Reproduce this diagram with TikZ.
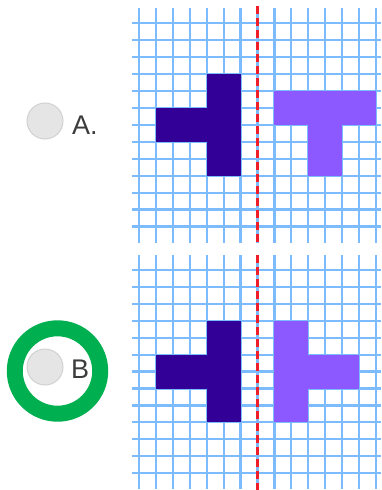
\documentclass[tikz,border=0pt]{standalone}
\usepackage{fontspec}
\setmainfont{Liberation Sans}
\definecolor{gridcolor}{RGB}{125,187,255}
\definecolor{axiscolor}{RGB}{240,30,40}
\definecolor{origcolor}{RGB}{50,0,150}
\definecolor{imagecolor}{RGB}{140,88,255}
\definecolor{markcolor}{RGB}{0,176,80}
\definecolor{labelcolor}{RGB}{60,60,60}
\newcommand{\fillblock}[5]{%
    \fill[#5] (#1,#2) rectangle ++ (#3,#4);
}
\newcommand{\drawpaper}{%
    \foreach \i in {0,...,14} {
            \draw[gridline] (\i,-0.9) -- (\i,12.95);
        }
    \foreach \j in {0,...,12} {
            \draw[gridline] (-0.43,\j) -- (14.3,\j);
        }
}
\tikzset{
    gridline/.style={gridcolor, line width=2.2pt},
    mirrorline/.style={axiscolor, line width=2.6pt, dash pattern=on 8pt off 4pt},
    radio/.style={circle, minimum size=36pt, inner sep=0pt, fill=black!10, draw=black!18, line width=1pt},
    optlabel/.style={anchor=base west, inner sep=0pt, text=labelcolor, font=\fontsize{27}{30}\selectfont},
    ring/.style={circle, minimum size=85.4pt, inner sep=0pt, draw=markcolor, line width=16pt}
}

\begin{document}
\begin{tikzpicture}[x=1pt, y=-1pt]
    \useasboundingbox (0,0) rectangle (382,490);
    % --- Option A: shape reflected into a T ---
    \begin{scope}[shift={(139pt,-23.3pt)}, x=16.93pt, y=-16.93pt]
        \drawpaper
        \draw[mirrorline] (7,-1.0) coordinate (axisAtop) -- (7,13.0) coordinate (axisAbot);
        \fillblock{4}{3}{2}{6}{origcolor}
        \fillblock{1}{5}{3.02}{2}{origcolor}
        \fillblock{8}{4}{6}{2}{imagecolor}
        \fillblock{10}{5.98}{2}{3.02}{imagecolor}
    \end{scope}
    % --- Option B: true mirror image ---
    \begin{scope}[shift={(139pt,-270pt)}, x=16.93pt, y=-16.93pt]
        \drawpaper
        \draw[mirrorline] (7,-0.9) coordinate (axisBtop) -- (7,13.1) coordinate (axisBbot);
        \fillblock{4}{3}{2}{6}{origcolor}
        \fillblock{1}{5}{3.02}{2}{origcolor}
        \fillblock{8}{3}{2}{6}{imagecolor}
        \fillblock{9.98}{5}{3.02}{2}{imagecolor}
    \end{scope}
    % --- answer buttons ---
    \node[radio] (radioA) at (45,121) {};
    \node[optlabel] (labelA) at (72,134) {A.};
    \node[radio] (radioB) at (45,367) {};
    \node[optlabel] (labelB) at (71,378) {B};
    \node[ring] (answer) at (57.5,371) {};
\end{tikzpicture}
\end{document}
